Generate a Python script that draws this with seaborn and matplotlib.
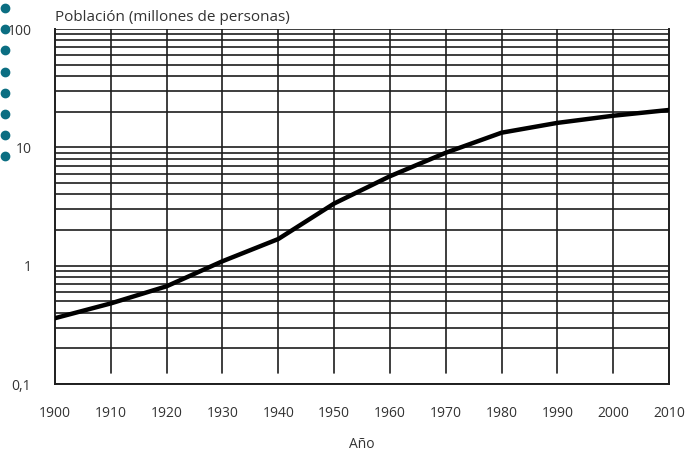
import matplotlib
matplotlib.use("Agg")
import matplotlib.pyplot as plt
from matplotlib.lines import Line2D
from matplotlib.ticker import FixedLocator, NullFormatter
import numpy as np
import pandas as pd
import seaborn as sns

# data
years = [1900, 1910, 1920, 1930, 1940, 1950, 1960, 1970, 1980, 1990, 2000, 2010]
population = [0.36, 0.48, 0.67, 1.09, 1.68, 3.35, 5.7, 9.0, 13.3, 16.1, 18.5, 20.7]
y_ticks = [0.1, 1, 10, 100]
y_labels = ["0,1", "1", "10", "100"]
title = "Población (millones de personas)"
xlabel = "Año"

sns.set_style("white")
plt.rcParams['font.family'] = ['Open Sans', 'DejaVu Sans']

df = pd.DataFrame({"year": years, "pop": population})

fig = plt.figure(figsize=(6.89, 4.57), dpi=100)
ax = fig.add_axes([0.0798, 0.1597, 0.971 - 0.0798, 0.9365 - 0.1597])

sns.lineplot(data=df, x="year", y="pop", color="black", linewidth=3.2, ax=ax, zorder=5)

ax.set_yscale("log")
ax.set_ylim(0.1, 100)
ax.set_xlim(years[0], years[-1])

# log grid, all minor lines
ax.yaxis.set_major_locator(FixedLocator(y_ticks))
ax.yaxis.set_minor_locator(FixedLocator(
    [m * d for d in [0.1, 1, 10] for m in range(2, 10)]))
ax.yaxis.set_minor_formatter(NullFormatter())
ax.set_yticklabels(y_labels)
ax.grid(which="both", axis="y", color="#1e1e1e", linewidth=1.2)

# vertical lines stop a bit above the bottom axis
ax.set_xticks(years)
for yr in years[1:-1]:
    ax.axvline(yr, ymin=0.031, ymax=1, color="#1e1e1e", linewidth=1.2, zorder=1)

ax.tick_params(which="both", length=0)
ax.tick_params(axis="x", pad=16, labelsize=10, labelcolor="#333333")
ax.tick_params(axis="y", pad=17, labelsize=10, labelcolor="#333333")

for side in ["left", "right", "bottom"]:
    ax.spines[side].set_visible(True)
    ax.spines[side].set_color("#1e1e1e")
    ax.spines[side].set_linewidth(1.4)
ax.spines["top"].set_visible(False)

ax.set_xlabel(xlabel, fontsize=10, color="#333333", labelpad=11)
ax.set_ylabel("")
ax.text(0, 1.012, title, transform=ax.transAxes, fontsize=11,
        color="#333333", ha="left", va="bottom")

# binder dots along the left edge
W, H = 689, 457
for k in range(8):
    yp = 8 + k * 21.2
    fig.add_artist(Line2D([5 / W], [1 - yp / H], transform=fig.transFigure,
                          marker="o", markersize=6, color="#0b6e82",
                          linestyle="none"))

fig.savefig("out.png", dpi=100)
